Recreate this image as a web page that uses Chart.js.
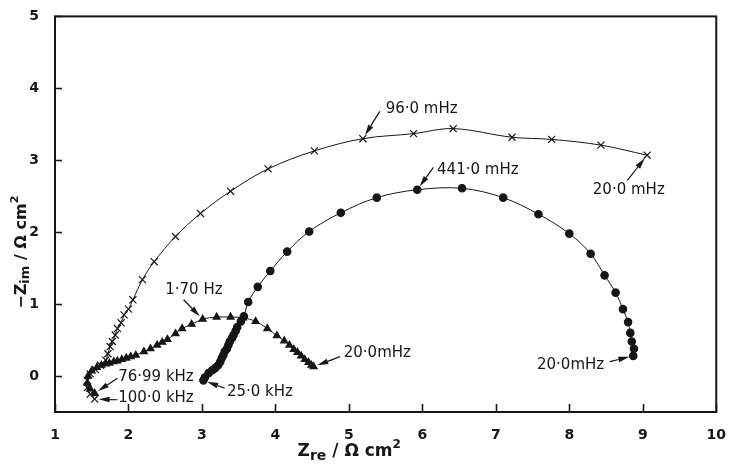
<!DOCTYPE html>
<html>
<head>
<meta charset="utf-8">
<script src="https://cdn.jsdelivr.net/npm/chart.js@4/dist/chart.umd.min.js"></script>
<style>
  html, body { margin: 0; padding: 0; background: #fff; }
  #wrap { width: 733px; height: 464px; }
</style>
</head>
<body>
<div id="wrap"><canvas id="nyquist" width="733" height="464"></canvas></div>
<script>
// Axis ticks
const xTickValues = [1, 2, 3, 4, 5, 6, 7, 8, 9, 10];
const yTickValues = [0, 1, 2, 3, 4, 5];

// Spectrum marked with crosses (100.0 kHz -> 20.0 mHz)
const crossRe = [1.54, 1.48, 1.44, 1.44, 1.48, 1.55, 1.62, 1.69, 1.72, 1.75, 1.78, 1.82, 1.85, 1.90, 1.94, 2.00, 2.06, 2.19, 2.35, 2.64, 2.98, 3.39, 3.90, 4.53, 5.19, 5.88, 6.42, 7.22, 7.76, 8.43, 9.06];
const crossIm = [-0.32, -0.25, -0.16, -0.06, 0.03, 0.09, 0.15, 0.22, 0.31, 0.41, 0.48, 0.57, 0.66, 0.74, 0.85, 0.93, 1.06, 1.34, 1.59, 1.94, 2.26, 2.57, 2.88, 3.13, 3.30, 3.37, 3.44, 3.32, 3.29, 3.21, 3.07];

// Spectrum marked with triangles (76.99 kHz -> 20.0 mHz)
const triRe = [1.54, 1.48, 1.44, 1.45, 1.50, 1.57, 1.63, 1.69, 1.74, 1.80, 1.85, 1.91, 1.97, 2.03, 2.10, 2.21, 2.30, 2.39, 2.46, 2.53, 2.64, 2.73, 2.86, 3.01, 3.20, 3.39, 3.56, 3.73, 3.89, 4.02, 4.12, 4.19, 4.25, 4.30, 4.35, 4.40, 4.45, 4.49, 4.52];
const triIm = [-0.24, -0.18, -0.10, 0.00, 0.07, 0.12, 0.15, 0.17, 0.18, 0.20, 0.21, 0.23, 0.25, 0.27, 0.29, 0.34, 0.38, 0.43, 0.47, 0.51, 0.59, 0.66, 0.72, 0.79, 0.82, 0.82, 0.81, 0.76, 0.66, 0.56, 0.49, 0.43, 0.37, 0.33, 0.28, 0.23, 0.19, 0.15, 0.13];

// Spectrum marked with dots (25.0 kHz -> 20.0 mHz)
const dotRe = [3.02, 3.04, 3.09, 3.14, 3.18, 3.22, 3.25, 3.27, 3.29, 3.31, 3.34, 3.36, 3.38, 3.41, 3.43, 3.46, 3.48, 3.53, 3.57, 3.63, 3.76, 3.93, 4.16, 4.46, 4.89, 5.38, 5.93, 6.54, 7.10, 7.58, 8.00, 8.29, 8.48, 8.63, 8.73, 8.80, 8.83, 8.85, 8.88, 8.87];
const dotIm = [-0.06, -0.02, 0.04, 0.08, 0.11, 0.15, 0.20, 0.25, 0.29, 0.34, 0.38, 0.43, 0.48, 0.53, 0.57, 0.63, 0.68, 0.76, 0.83, 1.03, 1.24, 1.46, 1.73, 2.01, 2.27, 2.48, 2.59, 2.61, 2.48, 2.25, 1.98, 1.70, 1.40, 1.16, 0.93, 0.75, 0.60, 0.48, 0.38, 0.28];

// Frequency labels: which point each arrow marks, where its text sits and where the arrow starts
const freqLabels = [
  { text: '96\u00B70 mHz',  series: 0, index: 24, at: [5.50, 3.71], tail: [5.42, 3.68] },
  { text: '20\u00B70 mHz',  series: 0, index: 30, at: [8.32, 2.58], tail: [8.79, 2.72] },
  { text: '100\u00B70 kHz', series: 0, index: 0,  at: [1.86, -0.31], tail: [1.85, -0.33] },
  { text: '441\u00B70 mHz', series: 2, index: 26, at: [6.20, 2.86], tail: [6.15, 2.90] },
  { text: '20\u00B70mHz',   series: 2, index: 39, at: [7.56, 0.15], tail: [8.55, 0.20] },
  { text: '25\u00B70 kHz',  series: 2, index: 0,  at: [3.34, -0.22], tail: [3.31, -0.17] },
  { text: '1\u00B770 Hz',   series: 1, index: 23, at: [2.50, 1.19], tail: [2.75, 1.06] },
  { text: '20\u00B70mHz',   series: 1, index: 38, at: [4.93, 0.32], tail: [4.88, 0.27] },
  { text: '76\u00B799 kHz', series: 1, index: 0,  at: [1.86, -0.01], tail: [1.85, -0.03] }
];

const INK = '#161616';
const FONT = "'DejaVu Sans', 'Liberation Sans', sans-serif";

const toPoints = (xs, ys) => xs.map((x, i) => ({ x, y: ys[i] }));

function makeSeries(xs, ys, style, radius) {
  return {
    data: toPoints(xs, ys),
    showLine: true,
    borderColor: INK,
    borderWidth: 1,
    tension: 0.35,
    pointStyle: style,
    pointRadius: radius,
    pointHoverRadius: radius,
    pointBackgroundColor: INK,
    pointBorderColor: INK,
    pointBorderWidth: 1.2
  };
}

// Draws a run of text pieces (with sub/superscripts) centred on (cx, cy)
function drawRichText(ctx, pieces, cx, cy) {
  let total = 0;
  pieces.forEach(p => {
    ctx.font = `${p.weight || 'bold'} ${p.size}px ${FONT}`;
    p.w = ctx.measureText(p.t).width;
    total += p.w;
  });
  let x = cx - total / 2;
  ctx.textBaseline = 'middle';
  ctx.textAlign = 'left';
  pieces.forEach(p => {
    ctx.font = `${p.weight || 'bold'} ${p.size}px ${FONT}`;
    ctx.fillText(p.t, x, cy + (p.dy || 0));
    x += p.w;
  });
}

const decorations = {
  id: 'decorations',
  afterDraw(chart) {
    const { ctx, chartArea: a, scales } = chart;
    const xs = scales.x, ys = scales.y;
    ctx.save();
    ctx.strokeStyle = INK;
    ctx.fillStyle = INK;

    // frame
    ctx.lineWidth = 2;
    ctx.strokeRect(a.left, a.top, a.right - a.left, a.bottom - a.top);

    // inward tick marks
    ctx.lineWidth = 1.6;
    ctx.beginPath();
    xTickValues.forEach(v => {
      const px = Math.round(xs.getPixelForValue(v)) + 0.5;
      ctx.moveTo(px, a.bottom);
      ctx.lineTo(px, a.bottom - 8);
    });
    yTickValues.forEach(v => {
      const py = Math.round(ys.getPixelForValue(v)) + 0.5;
      ctx.moveTo(a.left, py);
      ctx.lineTo(a.left + 7, py);
    });
    ctx.stroke();

    // frequency labels with arrows
    ctx.lineWidth = 1.2;
    freqLabels.forEach(lab => {
      const meta = chart.getDatasetMeta(lab.series);
      const el = meta.data[lab.index];
      const px = el.x, py = el.y;
      const tx = xs.getPixelForValue(lab.tail[0]);
      const ty = ys.getPixelForValue(lab.tail[1]);
      let dx = px - tx, dy = py - ty;
      const len = Math.hypot(dx, dy);
      dx /= len; dy /= len;
      const tipX = px - dx * 4, tipY = py - dy * 4;
      const baseX = tipX - dx * 11, baseY = tipY - dy * 11;
      ctx.beginPath();
      ctx.moveTo(tx, ty);
      ctx.lineTo(baseX, baseY);
      ctx.stroke();
      ctx.beginPath();
      ctx.moveTo(tipX, tipY);
      ctx.lineTo(baseX - dy * 2.8, baseY + dx * 2.8);
      ctx.lineTo(baseX + dy * 2.8, baseY - dx * 2.8);
      ctx.closePath();
      ctx.fill();

      ctx.font = `15px ${FONT}`;
      ctx.textAlign = 'left';
      ctx.textBaseline = 'middle';
      ctx.fillText(lab.text, xs.getPixelForValue(lab.at[0]), ys.getPixelForValue(lab.at[1]));
    });

    // axis titles
    drawRichText(ctx, [
      { t: 'Z', size: 17 },
      { t: 're', size: 14, dy: 4 },
      { t: ' / \u03A9 cm', size: 17 },
      { t: '2', size: 12, dy: -7 }
    ], a.left + (a.right - a.left) * 0.445, 452);

    ctx.save();
    ctx.translate(22, a.top + (a.bottom - a.top) * 0.596);
    ctx.rotate(-Math.PI / 2);
    drawRichText(ctx, [
      { t: '\u2212Z', size: 16 },
      { t: 'im', size: 13, dy: 4 },
      { t: ' / \u03A9 cm', size: 16 },
      { t: '2', size: 11, dy: -7 }
    ], 0, 0);
    ctx.restore();

    ctx.restore();
  }
};

new Chart(document.getElementById('nyquist'), {
  type: 'scatter',
  data: {
    datasets: [
      makeSeries(crossRe, crossIm, 'crossRot', 5),
      makeSeries(triRe, triIm, 'triangle', 4),
      makeSeries(dotRe, dotIm, 'circle', 3.7)
    ]
  },
  options: {
    responsive: false,
    animation: false,
    devicePixelRatio: 1,
    layout: { padding: { top: 16, right: 10, left: 0, bottom: 0 } },
    plugins: { legend: { display: false }, tooltip: { enabled: false } },
    scales: {
      x: {
        type: 'linear',
        min: 1,
        max: 10,
        afterBuildTicks: s => { s.ticks = xTickValues.map(v => ({ value: v })); },
        afterFit: s => { s.height = 52; },
        grid: { display: false },
        border: { display: false },
        ticks: { color: INK, padding: 7, maxRotation: 0, font: { family: FONT, size: 14, weight: 'bold' } }
      },
      y: {
        type: 'linear',
        min: -0.5,
        max: 5,
        afterBuildTicks: s => { s.ticks = yTickValues.map(v => ({ value: v })); },
        afterFit: s => { s.width = 55; },
        grid: { display: false },
        border: { display: false },
        ticks: { color: INK, padding: 8, font: { family: FONT, size: 14, weight: 'bold' } }
      }
    }
  },
  plugins: [decorations]
});
</script>
</body>
</html>
